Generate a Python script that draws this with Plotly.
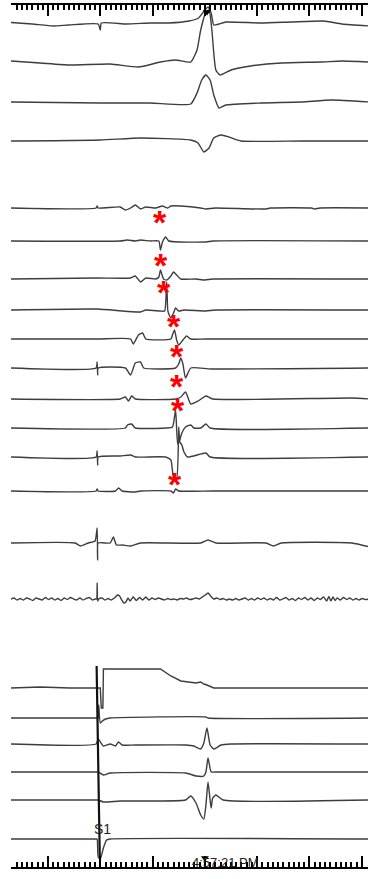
import plotly.graph_objects as go

# ---------------- data: time (ms) and deflection (positive = up) per channel ----------------
ch01_t = [-71, -30, 10, 40, 96, 100, 102, 150, 196, 230, 270, 288, 300, 306, 312, 317, 327, 340, 408, 465, 527, 562, 615]
ch01_v = [0.5, -1, -3, -2, -1, -7, 0, -1, 0, 0, 2, 5, 13, 16, 10, -2, -1, 1, 0, 1, 2, -1, -3]

ch02_t = [-71, -15, 42, 119, 173, 215, 244, 273, 285, 292, 302, 308, 313, 321, 329, 350, 388, 446, 523, 562, 615]
ch02_v = [1, -1, -3, -2, -5, 0, 2, 0, 12, 32, 50, 52, 34, -8, -13, -8, -4, -1, 0, 1, 0]

ch03_t = [-71, 100, 196, 273, 285, 294, 302, 310, 317, 327, 340, 408, 485, 542, 615]
ch03_v = [0, -1, -1, -2, 9, 22, 27, 22, 7, -6, -3, -1, 0, 2, 0]

ch04_t = [-71, 100, 177, 273, 287, 298, 308, 317, 331, 346, 369, 485, 615]
ch04_v = [-1, 0, 2, 0, -3, -12, -8, 2, 5, 3, -1, -1, -1]

ch05_t = [-71, 92, 94, 96, 138, 148, 158, 167, 177, 187, 206, 219, 229, 235, 254, 292, 302, 320, 417, 425, 504, 510, 520, 615]
ch05_v = [0, 0, 2, 0, 1, -2, 0, 3, -1, 1, 0, 2, 0, 2, 2, 0, -1, 0, -1, 0, 0, -1, 0, 0]

ch06_t = [-71, 138, 152, 167, 177, 196, 212, 215, 219, 225, 231, 302, 315, 615]
ch06_v = [0, 0, 1, 0, 1, 0, 0, -9, -1, 4, 0, -1, 0, 0]

ch07_t = [-71, 94, 158, 167, 177, 187, 206, 212, 215, 221, 227, 235, 240, 246, 254, 283, 300, 315, 615]
ch07_v = [0, 1, 1, 3, -3, 1, 0, 2, 9, 0, -1, 3, 7, 4, 0, 0, -1, 0, 0]

ch08_t = [-71, 94, 177, 187, 215, 223, 227, 229, 231, 235, 240, 244, 250, 260, 302, 320, 615]
ch08_v = [0, 1, -2, 0, -1, -1, 28, 0, -4, -8, -3, 2, -1, 0, -1, 0, 0]

ch09_t = [-71, 94, 158, 163, 173, 181, 187, 235, 238, 242, 246, 250, 258, 265, 273, 302, 615]
ch09_v = [0, 0, 0, -5, 4, 6, 0, 0, 4, 9, -1, -6, -1, 3, 0, 0, 0]

ch10_t = [-71, 92, 94, 95, 96, 148, 158, 167, 177, 183, 244, 250, 254, 258, 263, 273, 312, 615]
ch10_v = [0, 0, 6, -7, 0, 0, -7, 5, 6, 0, 0, 4, 10, 4, -10, 0, -1, 0]

ch11_t = [-71, 138, 148, 154, 160, 167, 244, 254, 263, 273, 287, 302, 315, 581, 615]
ch11_v = [0, 0, 2, -2, 3, 0, 0, 2, 7, -5, -2, 3, 0, 1, 0]

ch12_t = [-71, 148, 152, 160, 167, 225, 238, 244, 248, 252, 256, 263, 273, 279, 292, 302, 310, 615]
ch12_v = [0, 0, 3, 4, 0, 0, 1, 18, -16, -12, -5, 1, 3, 0, 0, 4, 0, 0]

ch13_t = [-71, 92, 94, 95, 96, 138, 158, 167, 225, 235, 240, 246, 250, 252, 256, 260, 267, 302, 310, 615]
ch13_v = [0, 0, 6, -8, 0, 1, 2, 0, 0, -3, -20, -21, 30, 15, 12, 5, 0, 4, 0, 0]

ch14_t = [-71, 92, 94, 96, 129, 135, 142, 167, 177, 235, 240, 244, 250, 315, 615]
ch14_v = [0, 0, 2, 0, 0, 3, 0, -1, 0, 0, -2, 2, 0, 0, 0]

ch15_t = [-71, 52, 62, 77, 90, 94, 95, 96, 119, 125, 131, 142, 158, 177, 292, 306, 321, 417, 431, 446, 581, 615]
ch15_v = [0, 0, -3, 0, 2, 15, -17, 0, 0, 6, -2, -2, -3, 0, 0, 3, 0, 0, -3, 0, 0, -4]

ch16_t = [-71, -65, -59, -53, -47, -41, -35, -29, -23, -17, -11, -5, 1, 7, 13, 19, 25, 31, 37, 43,
          49, 55, 61, 67, 73, 79, 85, 90, 93, 94, 95, 97, 103, 109, 115, 121, 127, 133, 137, 141,
          145, 149, 153, 157, 163, 169, 175, 181, 187, 193, 199, 205, 211, 217, 223, 229, 235, 241,
          247, 253, 259, 265, 271, 277, 283, 289, 295, 301, 306, 311, 317, 323, 329, 335, 341, 347,
          353, 359, 365, 371, 377, 383, 389, 395, 401, 407, 413, 419, 425, 431, 437, 443, 449, 455,
          461, 467, 473, 479, 485, 491, 497, 503, 509, 515, 521, 527, 533, 537, 541, 545, 549, 553,
          559, 565, 571, 577, 583, 589, 595, 601, 607, 615]
ch16_v = [0, 1, -1, 0.5, -1, 1, 0, -1.5, 1, 0, -1, 1.5, -0.5, 1, -1, 0.5, -1.5, 1, -0.5, 1.5,
          0, -1, 1, -1, 0.5, 1.5, -1, 0, 0, 16, -2, 0, 1, -1, 0.5, -1, 1, 4, 3, -1,
          -4, -3, 1, -2, 2, -1.5, 1.5, -1, 2, -1, 1, -0.5, 1, 0, -1, 0.5, -0.5, 0,
          -1, 0.5, 0, 1, -0.5, 0, 1, 0, 2, 4, 6, 3, 0, 1, -0.5, 0.5, -1, 0,
          -1, 0.5, -1, 0, 1, -1, 0.5, -1, 1, -0.5, 1, -1, 0.5, -1, 1.5, -1, 0, 1.5,
          -1, 0.5, -1.5, 1, -0.5, 1.5, -1, 1, -1.5, 1, -0.5, 2, -2, 2.5, -2, 2, -1.5, 1,
          -1, 1.5, -0.5, 1, -1, 0.5, -1, 0.5, -0.5, 0]

ch17_t = [-71, -15, 42, 90, 100, 102, 105, 106, 215, 235, 254, 283, 292, 298, 304, 317, 340, 420, 615]
ch17_v = [0, 1, 0, 0, 0, -20, -20, 19, 19, 12, 7, 5, 6, 4, 3, 0, 0, 0, 0]

ch18_t = [-71, 92, 96, 97, 100, 104, 110, 119, 302, 306, 615]
ch18_v = [0, 0, 0, 13, -5, -3, -1, 0, 1, 0, 0]

ch19_t = [-71, 92, 96, 106, 119, 129, 135, 142, 167, 263, 279, 292, 298, 304, 310, 317, 331, 350, 615]
ch19_v = [0, 0, 5, -2, 0, -2, 2, -1, -1, -1, -2, -5, 1, 16, -1, -5, -1, 0, 0]

ch20_t = [-71, 92, 96, 106, 119, 263, 283, 298, 302, 306, 312, 319, 615]
ch20_v = [0, 0, 0, -3, -1, -1, -4, -4, 0, 14, 0, 0, 0]

ch21_t = [-71, 92, 96, 106, 138, 263, 273, 283, 292, 298, 302, 306, 310, 312, 315, 321, 335, 615]
ch21_v = [0, 0, 0, -2, -1, 0, 4, -3, -15, -19, -5, 18, 0, -8, 2, 5, 0, 0]

ch22_t = [-71, 92, 94, 96, 100, 106, 112, 119, 615]
ch22_v = [0, 0, 0, -18, -20, -9, -1, 0, 0]

# stimulus artifact (S1) running through the lower channels
stim_t = [93, 96, 99]
stim_level = [666, 760, 856]

# red activation markers
star_t = [215, 217, 221, 240, 246, 246, 248, 242]
star_level = [219, 262, 289, 323, 353, 383, 407, 481]

time_label = "4:57:21 PM"
stim_label = "S1"

# ---------------- layout helpers ----------------
channels = [
    (ch01_t, ch01_v), (ch02_t, ch02_v), (ch03_t, ch03_v), (ch04_t, ch04_v),
    (ch05_t, ch05_v), (ch06_t, ch06_v), (ch07_t, ch07_v), (ch08_t, ch08_v),
    (ch09_t, ch09_v), (ch10_t, ch10_v), (ch11_t, ch11_v), (ch12_t, ch12_v),
    (ch13_t, ch13_v), (ch14_t, ch14_v), (ch15_t, ch15_v), (ch16_t, ch16_v),
    (ch17_t, ch17_v), (ch18_t, ch18_v), (ch19_t, ch19_v), (ch20_t, ch20_v),
    (ch21_t, ch21_v), (ch22_t, ch22_v),
]
offsets = [23, 62, 102, 140, 208, 241, 279, 310, 339, 368, 399, 428, 457, 491,
           543, 599, 688, 718, 744, 772, 800, 839]
straight = {16}  # the square-pulse channel keeps sharp corners

fig = go.Figure()
for i, ((t, v), off) in enumerate(zip(channels, offsets)):
    fig.add_trace(go.Scatter(
        x=t, y=[off - a for a in v], mode="lines",
        line=dict(color="#3d3d3d", width=1.4,
                  shape="linear" if i in straight else "spline", smoothing=0.5),
        hoverinfo="skip", showlegend=False))

fig.add_trace(go.Scatter(x=stim_t, y=stim_level, mode="lines",
                         line=dict(color="#111111", width=2.2), hoverinfo="skip", showlegend=False))

# small timing cursors on the rulers
fig.add_trace(go.Scatter(x=[304, 300], y=[12, 858], mode="markers",
                         marker=dict(symbol="triangle-down", size=7, color="#000000"),
                         hoverinfo="skip", showlegend=False))

for sx, sy in zip(star_t, star_level):
    fig.add_annotation(x=sx, y=sy, xref="x", yref="y", text="<b>*</b>", showarrow=False,
                       yshift=-3, font=dict(family="Liberation Sans", size=34, color="#ff0000"))

fig.add_annotation(x=340, y=862, xref="x", yref="y", text=time_label, showarrow=False,
                   font=dict(family="Liberation Sans", size=13, color="#222222"))
fig.add_annotation(x=105, y=829, xref="x", yref="y", text=stim_label, showarrow=False,
                   font=dict(family="Liberation Sans", size=14, color="#222222"))

fig.update_layout(
    width=368, height=879,
    margin=dict(l=11, r=0, t=5, b=12),
    paper_bgcolor="white", plot_bgcolor="white",
    xaxis=dict(range=[-70.7, 611.9], showgrid=False, zeroline=False,
               showline=True, linecolor="black", linewidth=2, mirror="ticks",
               ticks="inside", ticklen=11, tickwidth=2, tickcolor="black",
               tick0=0, dtick=100, showticklabels=False,
               minor=dict(ticks="inside", ticklen=5, tickwidth=1.5, tickcolor="black",
                          dtick=10, showgrid=False)),
    yaxis=dict(range=[867, 5], visible=False, showgrid=False, zeroline=False),
)

fig.write_html("out.html")
